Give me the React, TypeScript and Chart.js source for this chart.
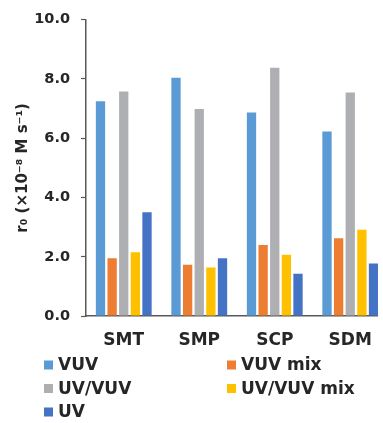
import React, { useEffect, useRef } from "react";
import { Chart, registerables } from "chart.js";

Chart.register(...registerables);

const categories = ["SMT", "SMP", "SCP", "SDM"];
const seriesLabels = ["VUV", "VUV mix", "UV/VUV", "UV/VUV mix", "UV"];
const vuv = [7.25, 8.04, 6.87, 6.23];
const vuvMix = [1.95, 1.73, 2.4, 2.62];
const uvVuv = [7.58, 6.99, 8.38, 7.54];
const uvVuvMix = [2.15, 1.64, 2.07, 2.91];
const uv = [3.5, 1.95, 1.43, 1.77];
const seriesColors = ["#5B9BD5", "#ED7D31", "#AEAFB3", "#FFC000", "#4472C4"];
const yTickValues = [0, 2, 4, 6, 8, 10];
const yTitle = "r\u2080 (\u00D710\u207B\u2078 M s\u207B\u00B9)";

const FONT = '"DejaVu Sans", "Liberation Sans", Arial, sans-serif';
const TEXT = "#262626";
const AXIS = "#595959";

const legendPlugin = {
  id: "gridLegend",
  afterDraw(chart: any) {
    const ctx = chart.ctx;
    ctx.save();
    ctx.font = `bold 17px ${FONT}`;
    ctx.textBaseline = "middle";
    ctx.textAlign = "left";
    chart.data.datasets.forEach((ds: any, i: number) => {
      const col = i % 2;
      const row = Math.floor(i / 2);
      const x = col === 0 ? 44 : 227;
      const y = 365 + row * 23.5;
      ctx.fillStyle = ds.backgroundColor;
      ctx.fillRect(x, y - 4.5, 9, 9);
      ctx.fillStyle = TEXT;
      ctx.fillText(ds.label, x + 14, y + 1);
    });
    ctx.restore();
  },
};

export default function App() {
  const ref = useRef<HTMLCanvasElement | null>(null);

  useEffect(() => {
    if (!ref.current) return;
    const seriesValues = [vuv, vuvMix, uvVuv, uvVuvMix, uv];
    const chart = new Chart(ref.current, {
      type: "bar",
      data: {
        labels: categories,
        datasets: seriesLabels.map((label, i) => ({
          label,
          data: seriesValues[i],
          backgroundColor: seriesColors[i],
          borderWidth: 0,
          categoryPercentage: 0.77,
          barPercentage: 0.8,
        })),
      },
      options: {
        responsive: false,
        animation: false,
        devicePixelRatio: 1,
        layout: { padding: { top: 18, right: 4, bottom: 0, left: 0 } },
        plugins: {
          legend: { display: false },
          tooltip: { enabled: false },
        },
        scales: {
          x: {
            grid: { display: false },
            border: { display: true, color: AXIS, width: 1.5 },
            ticks: {
              color: TEXT,
              font: { family: FONT, size: 17, weight: "bold" },
              padding: 6,
            },
            afterFit: (scale: any) => {
              scale.height = 107;
            },
          },
          y: {
            min: 0,
            max: 10,
            afterBuildTicks: (scale: any) => {
              scale.ticks = yTickValues.map((v) => ({ value: v }));
            },
            grid: {
              display: true,
              drawOnChartArea: false,
              drawTicks: true,
              tickLength: 5,
              tickColor: AXIS,
              tickWidth: 1.2,
            },
            border: { display: true, color: AXIS, width: 1.5 },
            ticks: {
              color: TEXT,
              font: { family: FONT, size: 14.5, weight: "bold" },
              padding: 11,
              callback: (v: any) => Number(v).toFixed(1),
            },
            title: {
              display: true,
              text: yTitle,
              color: TEXT,
              font: { family: FONT, size: 15, weight: "bold" },
              padding: { top: 14, bottom: 0 },
            },
            afterFit: (scale: any) => {
              scale.width = 86;
            },
          },
        },
      },
      plugins: [legendPlugin],
    });
    return () => chart.destroy();
  }, []);

  return (
    <div
      style={{
        position: "fixed",
        left: 0,
        top: 0,
        width: 378,
        height: 423,
        overflow: "hidden",
        background: "#fff",
      }}
    >
      <canvas ref={ref} width={392} height={423} style={{ display: "block" }} />
    </div>
  );
}
